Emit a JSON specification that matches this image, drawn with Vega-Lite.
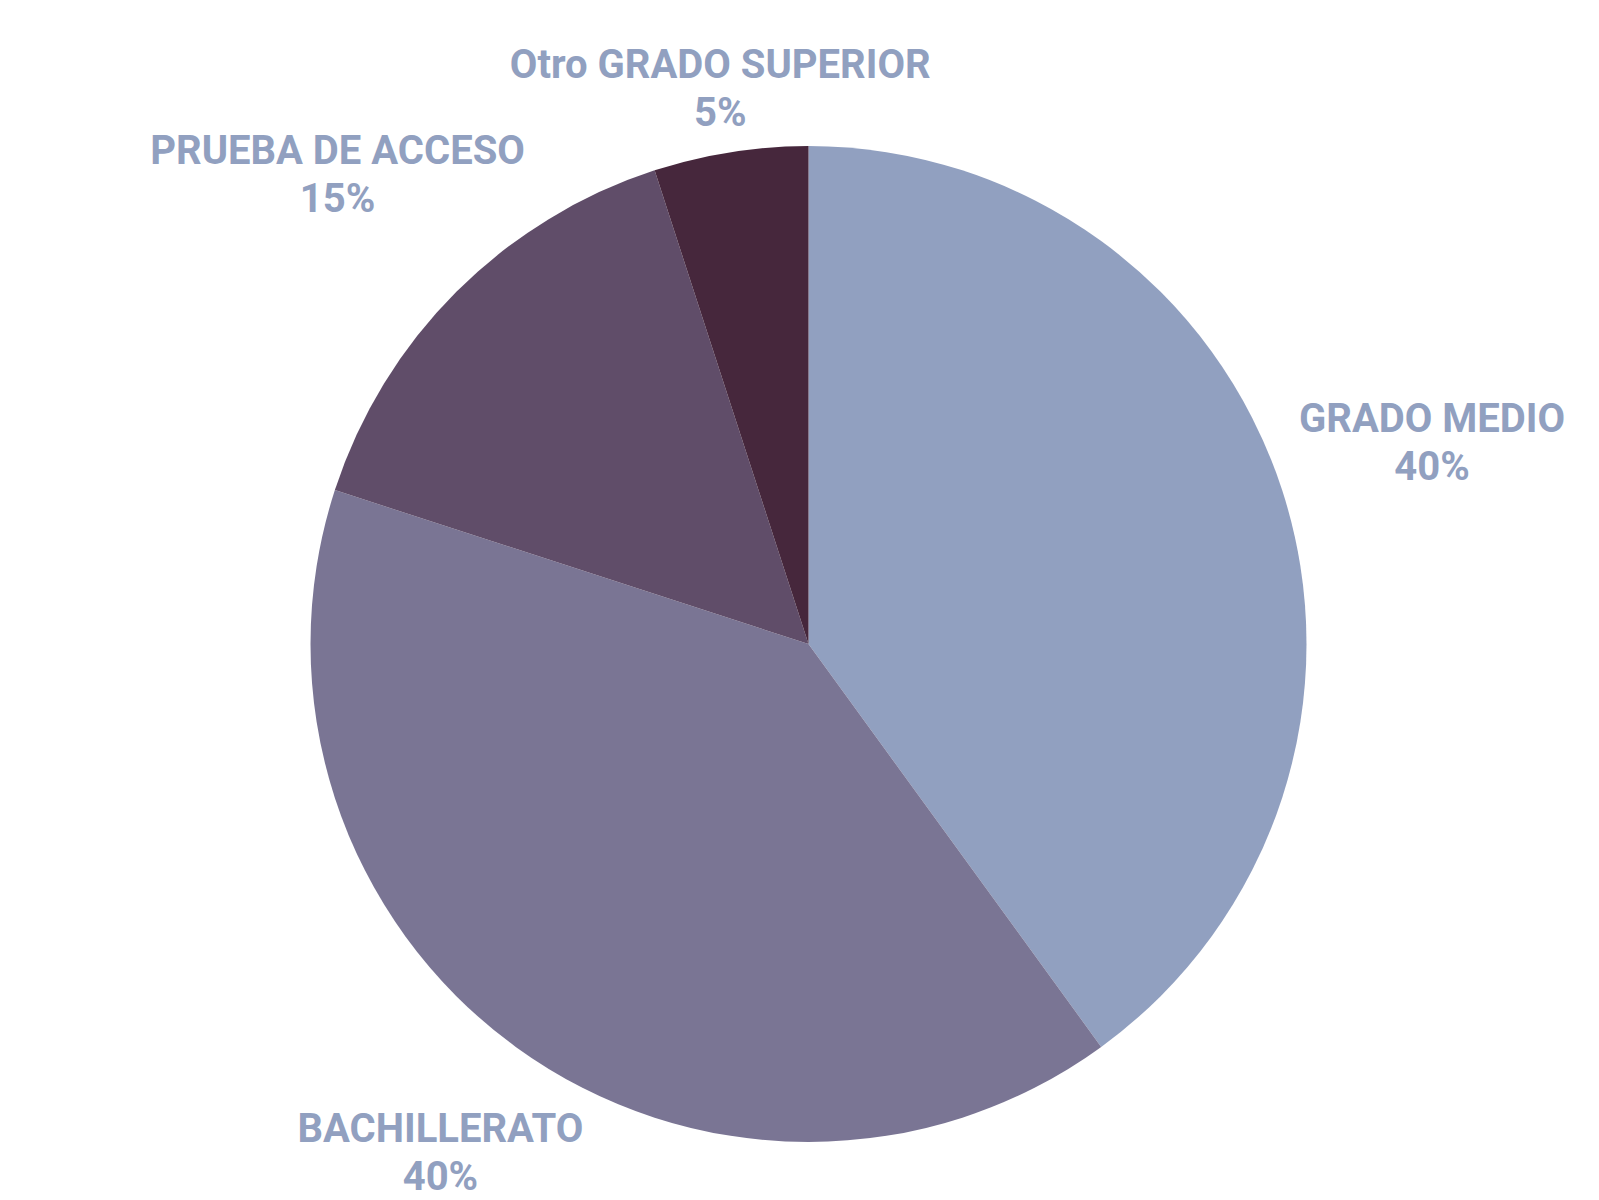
{
  "$schema": "https://vega.github.io/schema/vega-lite/v6.json",
  "width": 1581,
  "height": 1112,
  "autosize": {"type": "none"},
  "padding": {"left": 18, "top": 88, "right": 0, "bottom": 0},
  "background": "#ffffff",
  "config": {"view": {"stroke": null}},
  "data": {
    "values": [
      {"categoria": "GRADO MEDIO", "valor": 40},
      {"categoria": "BACHILLERATO", "valor": 40},
      {"categoria": "PRUEBA DE ACCESO", "valor": 15},
      {"categoria": "Otro GRADO SUPERIOR", "valor": 5}
    ]
  },
  "transform": [
    {"window": [{"op": "row_number", "as": "orden"}]},
    {"calculate": "[datum.categoria, datum.valor + '%']", "as": "etiqueta"}
  ],
  "encoding": {
    "theta": {"field": "valor", "type": "quantitative", "stack": true, "scale": {"domain": [0, 100]}},
    "order": {"field": "orden", "type": "quantitative"}
  },
  "layer": [
    {
      "mark": {"type": "arc", "radius": 498},
      "encoding": {
        "color": {
          "field": "categoria",
          "type": "nominal",
          "legend": null,
          "scale": {
            "domain": ["GRADO MEDIO", "BACHILLERATO", "PRUEBA DE ACCESO", "Otro GRADO SUPERIOR"],
            "range": ["#91A0C0", "#7A7594", "#604D69", "#46273C"]
          }
        }
      }
    },
    {
      "mark": {
        "type": "text",
        "font": "Roboto",
        "fontWeight": "bold",
        "fontSize": 40,
        "lineHeight": 48,
        "dy": -21,
        "color": "#91A0C0",
        "align": "center",
        "baseline": "middle",
        "radius": {"expr": "528 + 12.2*length(datum.categoria)*abs(sin(PI*(datum.valor_start+datum.valor_end)/100)) + 15*max(0, -cos(PI*(datum.valor_start+datum.valor_end)/100))"}
      },
      "encoding": {
        "text": {"field": "etiqueta"}
      }
    }
  ]
}
